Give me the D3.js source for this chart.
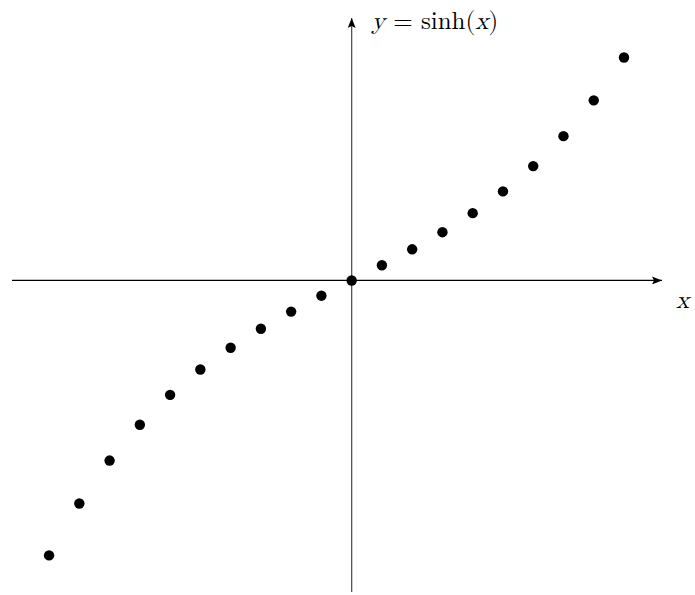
<!DOCTYPE html>
<html>
<head>
<meta charset="utf-8">
<script src="https://cdn.jsdelivr.net/npm/d3@7"></script>
<style>
  html, body { margin: 0; padding: 0; background: #fff; }
  svg { display: block; }
  .math { font-family: "Latin Modern Math", "DejaVu Serif", "Liberation Serif", serif; }
</style>
</head>
<body>
<svg id="chart" width="695" height="595"></svg>
<script>
// Sample points of y = sinh(x)
const xValues = [-2.0, -1.8, -1.6, -1.4, -1.2, -1.0, -0.8, -0.6, -0.4, -0.2,
                 0.0, 0.2, 0.4, 0.6, 0.8, 1.0, 1.2, 1.4, 1.6, 1.8];
const yValues = [-3.627, -2.942, -2.376, -1.904, -1.509, -1.175, -0.888, -0.637, -0.411, -0.201,
                 0.0, 0.201, 0.411, 0.637, 0.888, 1.175, 1.509, 1.904, 2.376, 2.942];
const yDomain = [-4.11, 3.70];
const xDomain = [-2.245, 2.038];

const svg = d3.select("#chart");

const x = d3.scaleLinear().domain(xDomain).range([12, 660]);
const y = d3.scaleLinear().domain(yDomain).range([592, 0]);

const x0 = x(0), y0 = y(0);

// arrow marker
const defs = svg.append("defs");
defs.append("marker")
  .attr("id", "arrowHead")
  .attr("viewBox", "0 0 10 8")
  .attr("refX", 10).attr("refY", 4)
  .attr("markerWidth", 10).attr("markerHeight", 8)
  .attr("markerUnits", "userSpaceOnUse")
  .attr("orient", "auto")
  .append("path").attr("d", "M0,0 L10,4 L0,8 L2,4 Z").attr("fill", "#000");

// horizontal axis
svg.append("line")
  .attr("x1", x(xDomain[0])).attr("y1", y0)
  .attr("x2", x(xDomain[1]) + 2).attr("y2", y0)
  .attr("stroke", "#000").attr("stroke-width", 1.3)
  .attr("marker-end", "url(#arrowHead)");

// vertical axis
svg.append("line")
  .attr("x1", x0).attr("y1", y(yDomain[0]))
  .attr("x2", x0).attr("y2", 18)
  .attr("stroke", "#555").attr("stroke-width", 1.3)
  .attr("marker-end", "url(#arrowHead)");

// points
svg.append("g")
  .selectAll("circle")
  .data(xValues.map((v, i) => [v, yValues[i]]))
  .join("circle")
  .attr("cx", d => x(d[0]))
  .attr("cy", d => y(d[1]))
  .attr("r", 5.2)
  .attr("fill", "#000");

// axis labels
const yLabel = svg.append("text")
  .attr("class", "math")
  .attr("x", x0 + 20).attr("y", 29)
  .attr("font-size", 25);
yLabel.append("tspan").attr("font-style", "italic").text("y");
yLabel.append("tspan").text(" = sinh(");
yLabel.append("tspan").attr("font-style", "italic").text("x");
yLabel.append("tspan").text(")");

svg.append("text")
  .attr("class", "math")
  .attr("x", 676).attr("y", 308)
  .attr("font-size", 25)
  .attr("font-style", "italic")
  .text("x");
</script>
</body>
</html>
